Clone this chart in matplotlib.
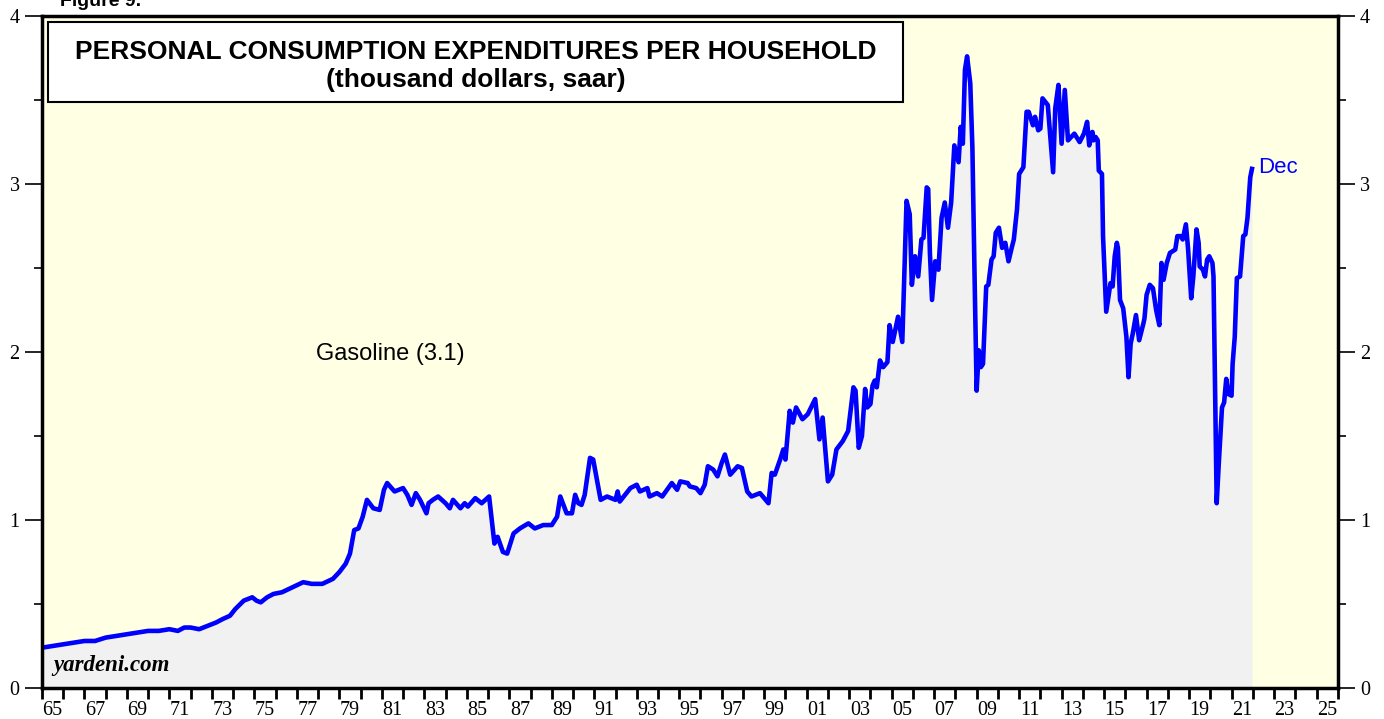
import matplotlib
matplotlib.use("Agg")
import matplotlib.pyplot as plt
from matplotlib.patches import Rectangle

# gasoline spending per household, thousand dollars saar
dates = [
    1965.0, 1965.5, 1966.0, 1966.5, 1967.0, 1967.5, 1968.0, 1968.5, 1969.0, 1969.5,
    1970.0, 1970.5, 1971.0, 1971.4, 1971.7, 1972.0, 1972.4, 1972.8, 1973.2, 1973.5,
    1973.85, 1974.1, 1974.5, 1974.9, 1975.1, 1975.3, 1975.6, 1975.9, 1976.3, 1976.8,
    1977.3, 1977.7, 1978.2, 1978.7, 1979.0, 1979.3, 1979.5, 1979.7, 1979.9, 1980.1,
    1980.3, 1980.6, 1980.9, 1981.1, 1981.25, 1981.6, 1982.0, 1982.2, 1982.4, 1982.6,
    1982.8, 1983.1, 1983.2, 1983.4, 1983.65, 1984.0, 1984.2, 1984.35, 1984.7, 1984.9,
    1985.05, 1985.4, 1985.7, 1986.05, 1986.3, 1986.45, 1986.7, 1986.9, 1987.2, 1987.5,
    1987.9, 1988.2, 1988.6, 1989.0, 1989.25, 1989.4, 1989.7, 1989.95, 1990.1, 1990.25,
    1990.4, 1990.55, 1990.8, 1990.95, 1991.3, 1991.6, 1992.0, 1992.1, 1992.2, 1992.7,
    1993.0, 1993.15, 1993.5, 1993.6, 1993.95, 1994.2, 1994.65, 1994.9, 1995.05, 1995.4,
    1995.5, 1995.8, 1996.0, 1996.2, 1996.35, 1996.6, 1996.8, 1997.0, 1997.15, 1997.4,
    1997.75, 1997.95, 1998.2, 1998.4, 1998.8, 1999.2, 1999.35, 1999.5, 1999.75, 1999.9,
    2000.0, 2000.2, 2000.35, 2000.5, 2000.8, 2001.05, 2001.4, 2001.6, 2001.75, 2002.0,
    2002.2, 2002.4, 2002.7, 2002.95, 2003.2, 2003.3, 2003.45, 2003.6, 2003.75, 2003.85,
    2004.0, 2004.1, 2004.2, 2004.3, 2004.45, 2004.6, 2004.8, 2004.9, 2005.05, 2005.3,
    2005.5, 2005.7, 2005.85, 2005.95, 2006.1, 2006.25, 2006.4, 2006.5, 2006.65, 2006.72,
    2006.8, 2006.9, 2007.05, 2007.2, 2007.35, 2007.5, 2007.65, 2007.8, 2007.95, 2008.15,
    2008.25, 2008.35, 2008.45, 2008.55, 2008.7, 2008.8, 2008.9, 2009.0, 2009.1, 2009.2,
    2009.3, 2009.45, 2009.55, 2009.7, 2009.8, 2009.9, 2010.05, 2010.2, 2010.35, 2010.5,
    2010.65, 2010.75, 2010.9, 2011.0, 2011.2, 2011.35, 2011.45, 2011.65, 2011.75, 2011.9,
    2012.0, 2012.1, 2012.35, 2012.6, 2012.7, 2012.85, 2013.0, 2013.15, 2013.3, 2013.45,
    2013.6, 2013.85, 2014.05, 2014.2, 2014.3, 2014.45, 2014.5, 2014.6, 2014.7, 2014.75,
    2014.9, 2014.95, 2015.1, 2015.3, 2015.4, 2015.5, 2015.6, 2015.65, 2015.75, 2015.9,
    2016.05, 2016.15, 2016.25, 2016.35, 2016.5, 2016.65, 2016.85, 2016.9, 2017.0, 2017.15,
    2017.3, 2017.45, 2017.6, 2017.7, 2017.8, 2017.95, 2018.1, 2018.35, 2018.45, 2018.6,
    2018.7, 2018.85, 2018.95, 2019.1, 2019.2, 2019.35, 2019.45, 2019.5, 2019.65, 2019.75,
    2019.85, 2019.95, 2020.1, 2020.15, 2020.2, 2020.25, 2020.3, 2020.4, 2020.55, 2020.65,
    2020.75, 2020.85, 2021.0, 2021.05, 2021.15, 2021.25, 2021.4, 2021.5, 2021.55, 2021.65,
    2021.75, 2021.8, 2021.88, 2021.96,
]
gasoline = [
    0.24, 0.25, 0.26, 0.27, 0.28, 0.28, 0.30, 0.31, 0.32, 0.33,
    0.34, 0.34, 0.35, 0.34, 0.36, 0.36, 0.35, 0.37, 0.39, 0.41,
    0.43, 0.47, 0.52, 0.54, 0.52, 0.51, 0.54, 0.56, 0.57, 0.60,
    0.63, 0.62, 0.62, 0.65, 0.69, 0.74, 0.80, 0.94, 0.95, 1.02,
    1.12, 1.07, 1.06, 1.18, 1.22, 1.17, 1.19, 1.15, 1.09, 1.16,
    1.12, 1.04, 1.10, 1.12, 1.14, 1.10, 1.07, 1.12, 1.07, 1.10,
    1.08, 1.13, 1.10, 1.14, 0.86, 0.90, 0.81, 0.80, 0.92, 0.95,
    0.98, 0.95, 0.97, 0.97, 1.02, 1.14, 1.04, 1.04, 1.15, 1.10,
    1.09, 1.15, 1.37, 1.36, 1.12, 1.14, 1.12, 1.17, 1.11, 1.19,
    1.21, 1.17, 1.19, 1.14, 1.16, 1.14, 1.22, 1.18, 1.23, 1.22,
    1.20, 1.19, 1.16, 1.21, 1.32, 1.30, 1.26, 1.34, 1.39, 1.27,
    1.32, 1.31, 1.17, 1.14, 1.16, 1.10, 1.28, 1.27, 1.36, 1.42,
    1.36, 1.65, 1.58, 1.67, 1.60, 1.63, 1.72, 1.48, 1.61, 1.23,
    1.27, 1.42, 1.47, 1.53, 1.79, 1.77, 1.43, 1.50, 1.78, 1.67,
    1.69, 1.80, 1.83, 1.79, 1.95, 1.91, 1.94, 2.16, 2.06, 2.21,
    2.06, 2.90, 2.82, 2.40, 2.57, 2.45, 2.67, 2.68, 2.98, 2.97,
    2.59, 2.31, 2.54, 2.49, 2.80, 2.89, 2.74, 2.89, 3.23, 3.13,
    3.34, 3.24, 3.68, 3.76, 3.60, 3.22, 2.47, 1.77, 2.01, 1.91,
    1.93, 2.39, 2.40, 2.55, 2.57, 2.71, 2.74, 2.62, 2.65, 2.54,
    2.62, 2.67, 2.85, 3.06, 3.10, 3.43, 3.43, 3.35, 3.40, 3.32,
    3.33, 3.51, 3.47, 3.07, 3.45, 3.59, 3.24, 3.56, 3.26, 3.28,
    3.30, 3.25, 3.30, 3.37, 3.23, 3.31, 3.26, 3.28, 3.26, 3.08,
    3.06, 2.69, 2.24, 2.41, 2.39, 2.57, 2.65, 2.62, 2.31, 2.26,
    2.09, 1.85, 2.05, 2.11, 2.22, 2.07, 2.17, 2.20, 2.34, 2.40,
    2.38, 2.25, 2.16, 2.53, 2.43, 2.53, 2.59, 2.61, 2.69, 2.69,
    2.67, 2.76, 2.62, 2.32, 2.45, 2.73, 2.65, 2.51, 2.49, 2.45,
    2.55, 2.57, 2.53, 2.45, 1.99, 1.50, 1.10, 1.34, 1.67, 1.70,
    1.84, 1.75, 1.74, 1.93, 2.09, 2.44, 2.45, 2.61, 2.69, 2.70,
    2.80, 2.89, 3.04, 3.09,
]

years = list(range(1965, 2027))
label_years = list(range(1965, 2026, 2))
tick_labels = [f"{y % 100:02d}" for y in label_years]

SANS = "Liberation Sans"
SERIF = "Liberation Serif"

fig = plt.figure(figsize=(13.84, 7.19), dpi=100)
ax = fig.add_axes([0.0303, 0.0431, 0.9363, 0.9346])
ax.set_facecolor("#FFFFE4")

ax.fill_between(dates, gasoline, 0, color="#F1F1F1", lw=0, zorder=1)
ax.plot(dates, gasoline, color="#0000FF", lw=3.3, solid_joinstyle="round", zorder=3)

ax.set_xlim(1965, 2026)
ax.set_ylim(0, 4)

# year ticks, labels sit in the middle of odd years
ax.set_xticks(years)
ax.set_xticklabels([])
ax.set_xticks([y + 0.5 for y in label_years], minor=True)
ax.set_xticklabels(tick_labels, minor=True, fontfamily=SERIF, fontsize=14.5)
ax.tick_params(axis="x", which="major", direction="out", length=8, width=2)
ax.tick_params(axis="x", which="minor", length=0, pad=9)

ax.set_yticks([0, 1, 2, 3, 4])
ax.set_yticklabels(["0", "1", "2", "3", "4"], fontfamily=SERIF, fontsize=14.5)
ax.set_yticks([0.5, 1.5, 2.5, 3.5], minor=True)
ax.tick_params(axis="y", which="both", direction="out", left=True, right=True,
               labelleft=True, labelright=True, width=1.2)
ax.tick_params(axis="y", which="major", length=12, pad=4)
ax.tick_params(axis="y", which="minor", length=6)

for side in ["left", "right", "bottom", "top"]:
    ax.spines[side].set_linewidth(2.5)
    ax.spines[side].set_zorder(5)

# title box
ax.add_patch(Rectangle((0.0046, 0.872), 0.66, 0.119, transform=ax.transAxes,
                       facecolor="white", edgecolor="black", lw=1.5, zorder=6))
ax.text(0.3345, 0.947, "PERSONAL CONSUMPTION EXPENDITURES PER HOUSEHOLD",
        transform=ax.transAxes, ha="center", va="center", fontfamily=SANS,
        fontweight="bold", fontsize=19, zorder=7)
ax.text(0.3345, 0.905, "(thousand dollars, saar)", transform=ax.transAxes,
        ha="center", va="center", fontfamily=SANS, fontweight="bold",
        fontsize=19, zorder=7)

ax.text(1981.4, 1.99, "Gasoline (3.1)", ha="center", va="center",
        fontfamily=SANS, fontsize=17, zorder=7)
ax.text(dates[-1] + 0.3, 3.1, "Dec", ha="left", va="center",
        fontfamily=SANS, fontsize=16, color="#0000FF", zorder=7)
ax.text(0.0085, 0.025, "yardeni.com", transform=ax.transAxes, ha="left",
        va="baseline", fontfamily=SERIF, fontweight="bold", fontstyle="italic",
        fontsize=16.5, zorder=7)

fig.text(60 / 1384, 1 - 6 / 719, "Figure 9.", ha="left", va="baseline",
         fontfamily=SANS, fontweight="bold", fontsize=14)

fig.savefig("out.png", dpi=100)
